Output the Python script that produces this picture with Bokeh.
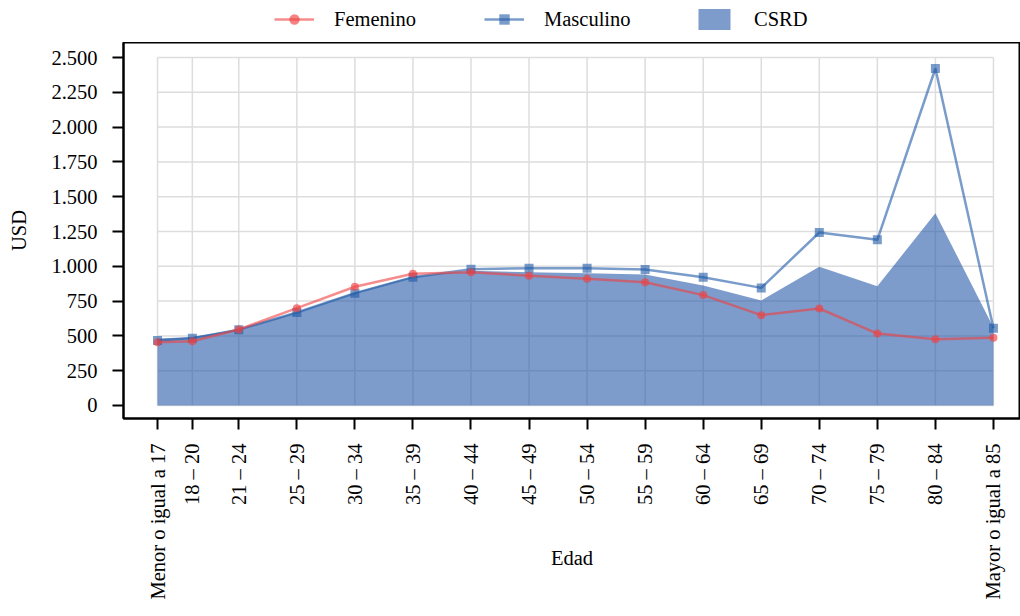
import math
from bokeh.plotting import figure
from bokeh.layouts import column
from bokeh.models import (Range1d, FixedTicker, Legend, LegendItem, ColumnDataSource)
from bokeh.embed import file_html
from bokeh.resources import INLINE

# ---- data ----
age_groups = ["Menor o igual a 17", "18 – 20", "21 – 24", "25 – 29", "30 – 34", "35 – 39",
              "40 – 44", "45 – 49", "50 – 54", "55 – 59", "60 – 64", "65 – 69",
              "70 – 74", "75 – 79", "80 – 84", "Mayor o igual a 85"]
age_pos = [17, 20, 24, 29, 34, 39, 44, 49, 54, 59, 64, 69, 74, 79, 84, 89]
femenino = [455, 462, 546, 699, 853, 946, 958, 932, 910, 886, 793, 649, 697, 517, 476, 486]
masculino = [467, 484, 545, 668, 807, 922, 979, 986, 986, 977, 922, 845, 1243, 1190, 2421, 555]
csrd = [482, 492, 548, 672, 812, 926, 968, 958, 950, 941, 862, 754, 996, 857, 1381, 560]
y_ticks = [0, 250, 500, 750, 1000, 1250, 1500, 1750, 2000, 2250, 2500]
y_tick_labels = ["0", "250", "500", "750", "1.000", "1.250", "1.500", "1.750", "2.000", "2.250", "2.500"]
series_names = ["Femenino", "Masculino", "CSRD"]

FONT = "Liberation Serif"
FS = "20.5px"
RED, BLUE, AREA = "#F04040", "#1F5AA6", "#1F55A5"

src = ColumnDataSource(dict(x=age_pos, f=femenino, m=masculino, c=csrd, zero=[0] * len(age_pos)))

p = figure(width=1020, height=566, output_backend="svg", toolbar_location=None,
           x_range=Range1d(14.07, 91.33), y_range=Range1d(-93.4, 2607.8),
           min_border_left=123, min_border_top=0, min_border_bottom=190, min_border_right=0)
p.xgrid.visible = False
p.ygrid.visible = False
p.outline_line_color = "black"
p.outline_line_width = 2
p.background_fill_color = "white"
p.border_fill_color = "white"

# grid restricted to data extent
gx0, gx1 = age_pos[0], age_pos[-1]
gy0, gy1 = y_ticks[0], y_ticks[-1]
p.segment(x0=[gx0] * len(y_ticks), x1=[gx1] * len(y_ticks), y0=y_ticks, y1=y_ticks,
          line_color="#DDDDDD", line_width=1.5)
p.segment(x0=age_pos, x1=age_pos, y0=[gy0] * len(age_pos), y1=[gy1] * len(age_pos),
          line_color="#DDDDDD", line_width=1.5)

p.varea(x="x", y1="zero", y2="c", source=src, fill_color=AREA, fill_alpha=0.58)
p.line("x", "m", source=src, line_color=BLUE, line_width=2.5, line_alpha=0.6)
p.scatter("x", "m", source=src, marker="square", size=9, fill_color=BLUE,
          line_color=None, fill_alpha=0.6)
p.line("x", "f", source=src, line_color=RED, line_width=2.5, line_alpha=0.6)
p.scatter("x", "f", source=src, marker="circle", size=8, fill_color=RED,
          line_color=None, fill_alpha=0.65)

# axes
for ax in (p.xaxis[0], p.yaxis[0]):
    ax.axis_line_color = "black"
    ax.axis_line_width = 2
    ax.major_tick_line_color = "black"
    ax.major_tick_line_width = 2
    ax.major_tick_out = 11
    ax.major_tick_in = 0
    ax.minor_tick_line_color = None
    ax.major_label_text_font = FONT
    ax.major_label_text_font_size = FS
    ax.major_label_text_color = "black"
    ax.axis_label_text_font = FONT
    ax.axis_label_text_font_size = FS
    ax.axis_label_text_font_style = "normal"
    ax.axis_label_text_color = "black"

p.xaxis.ticker = FixedTicker(ticks=age_pos)
p.xaxis.major_label_overrides = {v: s for v, s in zip(age_pos, age_groups)}
p.xaxis.major_label_orientation = math.pi / 2
p.xaxis.major_label_standoff = 14
p.xaxis.axis_label = "Edad"
p.xaxis.axis_label_standoff = -55

p.yaxis.ticker = FixedTicker(ticks=y_ticks)
p.yaxis.major_label_overrides = {v: s for v, s in zip(y_ticks, y_tick_labels)}
p.yaxis.major_label_standoff = 15
p.yaxis.axis_label = "USD"
p.yaxis.axis_label_standoff = 18

# ---- legend strip (separate figure above the plot; legend-only renderers hold no visible data) ----
lg = figure(width=1020, height=42, output_backend="svg", toolbar_location=None,
            x_range=Range1d(0, 1), y_range=Range1d(0, 1),
            min_border=0, outline_line_color=None)
lg.axis.visible = False
lg.grid.visible = False
nan = float("nan")
dummy = ColumnDataSource(dict(x=[nan], y=[nan], y0=[nan]))
fl = lg.line("x", "y", source=dummy, line_color=RED, line_width=2.5, line_alpha=0.6)
fp = lg.scatter("x", "y", source=dummy, marker="circle", size=8, fill_color=RED,
                line_color=None, fill_alpha=0.65)
ml = lg.line("x", "y", source=dummy, line_color=BLUE, line_width=2.5, line_alpha=0.6)
mp = lg.scatter("x", "y", source=dummy, marker="square", size=9, fill_color=BLUE,
                line_color=None, fill_alpha=0.6)
ar = lg.varea(x="x", y1="y0", y2="y", source=dummy, fill_color=AREA, fill_alpha=0.58)

legend = Legend(items=[
    LegendItem(label=series_names[0], renderers=[fl, fp]),
    LegendItem(label=series_names[1], renderers=[ml, mp]),
    LegendItem(label=series_names[2], renderers=[ar]),
], orientation="horizontal", location=(151, 10))
legend.label_text_font = FONT
legend.label_text_font_size = FS
legend.label_text_color = "black"
legend.label_width = 110
legend.glyph_width = 40
legend.glyph_height = 26
legend.label_standoff = 20
legend.spacing = 40
legend.padding = 2
legend.margin = 0
legend.border_line_color = None
legend.background_fill_alpha = 0
lg.add_layout(legend, "center")

layout = column(lg, p, spacing=0)
open("out.html", "w").write(file_html(layout, INLINE))
